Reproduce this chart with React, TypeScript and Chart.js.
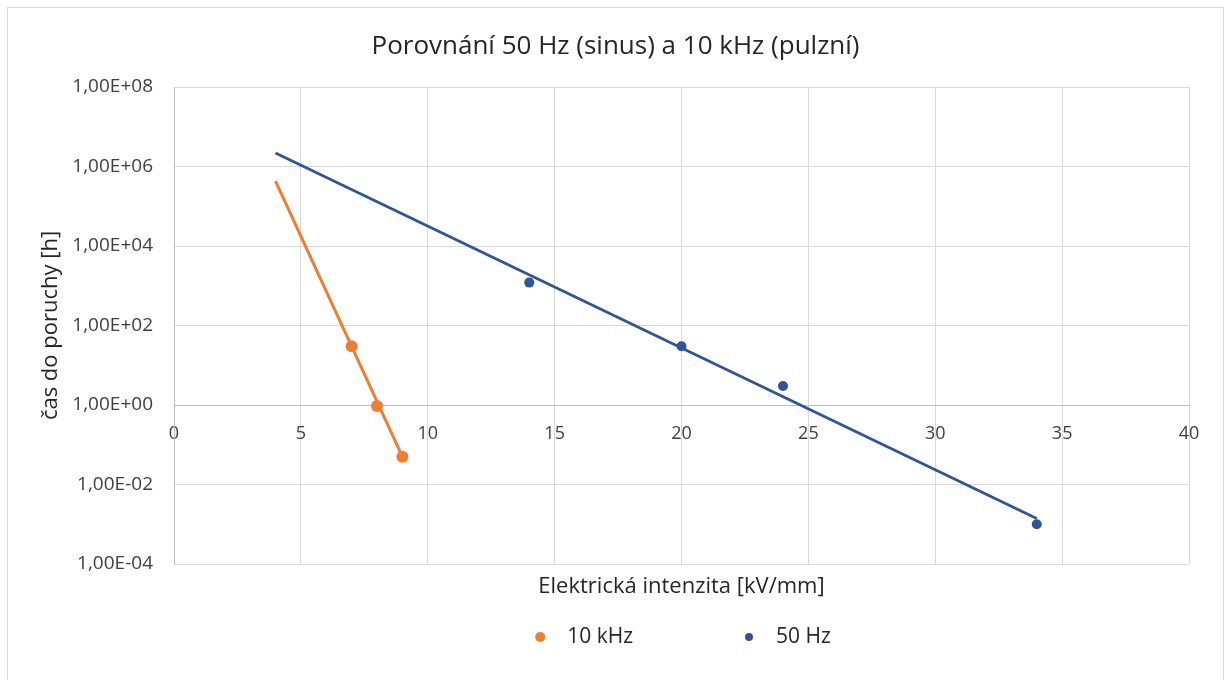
import React, { useEffect, useRef } from 'react';
import { Chart, registerables } from 'chart.js';

Chart.register(...registerables);

const chartTitle = 'Porovnání 50 Hz (sinus) a 10 kHz (pulzní)';
const xAxisTitle = 'Elektrická intenzita [kV/mm]';
const yAxisTitle = 'čas do poruchy [h]';

const tenKhzLabel = '10 kHz';
const tenKhzX = [7, 8, 9];
const tenKhzY = [30, 0.94, 0.05];
const tenKhzTrendX = [4, 9];
const tenKhzTrendY = [4.3e5, 0.05];

const fiftyHzLabel = '50 Hz';
const fiftyHzX = [14, 20, 24, 34];
const fiftyHzY = [1200, 30, 3, 0.001];
const fiftyHzTrendX = [4, 34];
const fiftyHzTrendY = [2.2e6, 1.4e-3];

const xMin = 0;
const xMax = 40;
const xStep = 5;
const yMin = 1e-4;
const yMax = 1e8;
const yTickValues = [1e-4, 1e-2, 1, 1e2, 1e4, 1e6, 1e8];
const yTickLabels = ['1,00E-04', '1,00E-02', '1,00E+00', '1,00E+02', '1,00E+04', '1,00E+06', '1,00E+08'];

const ORANGE = '#ED7D31';
const BLUE = '#2F5597';
const GRID = '#d9d9d9';
const AXIS = '#bfbfbf';
const TEXT = '#262626';
const TICK_TEXT = '#404040';
const FONT = "'Open Sans', sans-serif";

const toPoints = (xs: number[], ys: number[]) => xs.map((x, i) => ({ x, y: ys[i] }));

const legendPlugin = {
  id: 'excelLegend',
  afterDraw(chart: any) {
    const { ctx, chartArea } = chart;
    const items = [chart.data.datasets[0], chart.data.datasets[1]];
    const radii = [5, 4];
    ctx.save();
    ctx.font = `21px ${FONT}`;
    ctx.textBaseline = 'middle';
    ctx.textAlign = 'left';
    const widths = items.map((d: any) => ctx.measureText(d.label).width);
    const dotGap = 27;
    const itemGap = 116;
    const total = radii[0] + dotGap + widths[0] + itemGap + dotGap + widths[1];
    const start = (chartArea.left + chartArea.right) / 2 + 1.5 - total / 2;
    const y = chartArea.bottom + 73;
    const dot1 = start + radii[0];
    const text1 = dot1 + dotGap;
    const dot2 = text1 + widths[0] + itemGap;
    const text2 = dot2 + dotGap;
    const pos = [
      [dot1, text1],
      [dot2, text2],
    ];
    items.forEach((d: any, i: number) => {
      ctx.beginPath();
      ctx.fillStyle = d.pointBackgroundColor;
      ctx.arc(pos[i][0], y, radii[i], 0, Math.PI * 2);
      ctx.fill();
      ctx.fillStyle = TEXT;
      ctx.fillText(d.label, pos[i][1], y);
    });
    ctx.restore();
  },
};

export default function App() {
  const ref = useRef<HTMLCanvasElement | null>(null);

  useEffect(() => {
    if (!ref.current) return;
    Chart.defaults.font.family = FONT;
    const chart = new Chart(ref.current, {
      type: 'scatter',
      data: {
        datasets: [
          {
            label: tenKhzLabel,
            data: toPoints(tenKhzX, tenKhzY),
            pointRadius: 6,
            pointBorderWidth: 0,
            pointBackgroundColor: ORANGE,
            backgroundColor: ORANGE,
            borderColor: ORANGE,
            showLine: false,
          },
          {
            label: fiftyHzLabel,
            data: toPoints(fiftyHzX, fiftyHzY),
            pointRadius: 5,
            pointBorderWidth: 0,
            pointBackgroundColor: BLUE,
            backgroundColor: BLUE,
            borderColor: BLUE,
            showLine: false,
          },
          {
            label: tenKhzLabel + ' trend',
            data: toPoints(tenKhzTrendX, tenKhzTrendY),
            showLine: true,
            pointRadius: 0,
            borderColor: ORANGE,
            borderWidth: 3,
          },
          {
            label: fiftyHzLabel + ' trend',
            data: toPoints(fiftyHzTrendX, fiftyHzTrendY),
            showLine: true,
            pointRadius: 0,
            borderColor: BLUE,
            borderWidth: 2.75,
          },
        ],
      },
      options: {
        responsive: false,
        animation: false,
        layout: { padding: { left: 0, right: 0, top: 0, bottom: 0 } },
        plugins: {
          legend: { display: false },
          tooltip: { enabled: false },
          title: {
            display: true,
            text: chartTitle,
            color: TEXT,
            font: { size: 26, weight: 'normal', family: FONT },
            padding: { top: 22.5, bottom: 25.3 },
          },
        },
        scales: {
          x: {
            type: 'linear',
            position: 'bottom',
            min: xMin,
            max: xMax,
            ticks: { display: false, stepSize: xStep },
            grid: { color: GRID, drawTicks: false, lineWidth: 1 },
            border: { display: false },
            title: {
              display: true,
              text: xAxisTitle,
              color: TEXT,
              font: { size: 22, family: FONT },
              padding: { top: 0, bottom: 79.8 },
            },
            afterFit: (scale: any) => {
              scale.height = 116;
            },
          },
          x2: {
            type: 'linear',
            axis: 'x',
            position: { y: 1 },
            min: xMin,
            max: xMax,
            ticks: { stepSize: xStep, padding: 18, color: TICK_TEXT, font: { size: 18, family: FONT } },
            grid: { display: false, drawTicks: false },
            border: { display: true, color: AXIS, width: 1 },
          },
          y: {
            type: 'logarithmic',
            position: 'left',
            min: yMin,
            max: yMax,
            afterBuildTicks: (scale: any) => {
              scale.ticks = yTickValues.map((v) => ({ value: v }));
            },
            ticks: {
              padding: 21,
              color: TICK_TEXT,
              font: { size: 19, family: FONT },
              callback: (value: any) => {
                const idx = yTickValues.findIndex((v) => Math.abs(Math.log10(v) - Math.log10(Number(value))) < 1e-6);
                return idx >= 0 ? yTickLabels[idx] : '';
              },
            },
            grid: { color: GRID, drawTicks: false, lineWidth: 1 },
            border: { color: AXIS, width: 1 },
            title: {
              display: true,
              text: yAxisTitle,
              color: TEXT,
              font: { size: 22, family: FONT },
              padding: { top: 29.8, bottom: 0 },
            },
            afterFit: (scale: any) => {
              scale.width = 166;
            },
          },
          yRightSpace: {
            type: 'linear',
            axis: 'y',
            position: 'right',
            display: true,
            min: 0,
            max: 1,
            ticks: { display: false },
            grid: { display: false, drawTicks: false },
            border: { display: false },
            afterFit: (scale: any) => {
              scale.width = 34;
            },
          },
        },
      } as any,
      plugins: [legendPlugin],
    });
    return () => chart.destroy();
  }, []);

  return (
    <div
      style={{
        position: 'fixed',
        left: 7,
        top: 7,
        width: 1217,
        height: 700,
        border: '1px solid #d9d9d9',
        boxSizing: 'border-box',
        background: '#ffffff',
      }}
    >
      <canvas ref={ref} width={1215} height={672} style={{ display: 'block' }} />
    </div>
  );
}
